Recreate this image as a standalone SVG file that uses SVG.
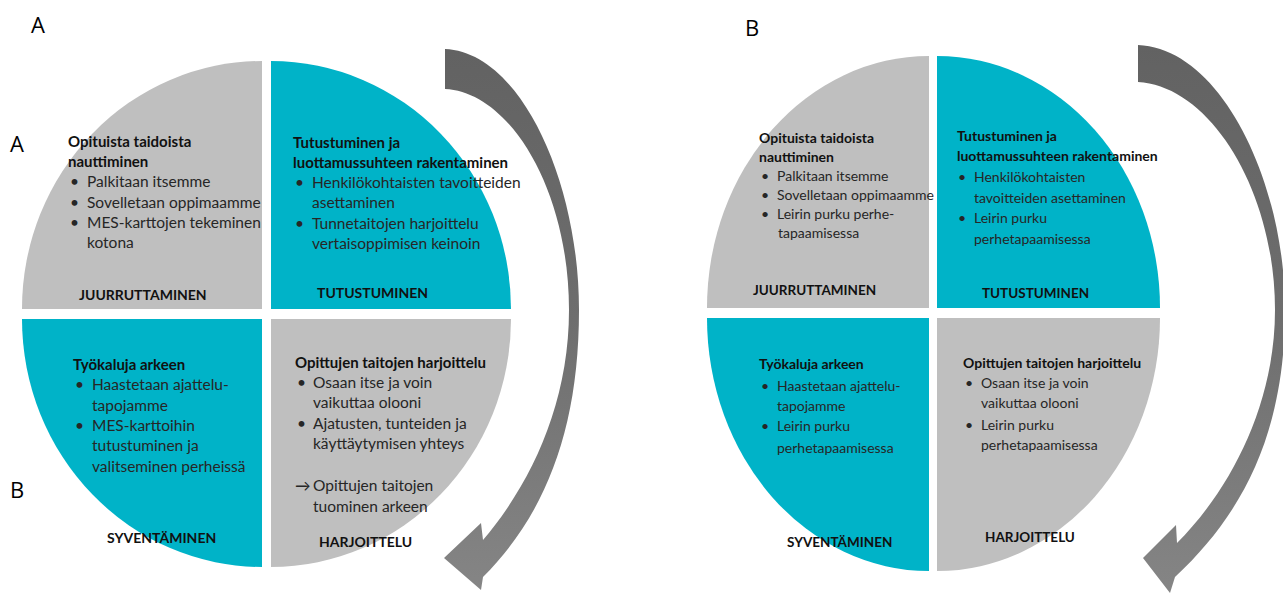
<svg xmlns="http://www.w3.org/2000/svg" width="1283" height="595" viewBox="0 0 1283 595">
<style>
.g{fill:#BFBFBF}
.t{fill:#00B3C8}
.lbl{font-family:"Open Sans","Liberation Sans",sans-serif;font-size:22px;fill:#000}
.h{font-family:Lato,"Liberation Sans",sans-serif;font-weight:bold;font-size:15px;fill:#111}
.b{font-family:Lato,"Liberation Sans",sans-serif;font-size:15.5px;fill:#262626}
.c{font-family:Lato,"Liberation Sans",sans-serif;font-weight:bold;font-size:14px;fill:#111}
.h2{font-family:Lato,"Liberation Sans",sans-serif;font-weight:bold;font-size:14px;fill:#111}
.b2{font-family:Lato,"Liberation Sans",sans-serif;font-size:14px;fill:#262626}
.c2{font-family:Lato,"Liberation Sans",sans-serif;font-weight:bold;font-size:13.5px;fill:#111}
.arr{fill:url(#ag)}
</style>
<defs>
<linearGradient id="ag" x1="0" y1="0" x2="0" y2="1">
<stop offset="0" stop-color="#626262"/>
<stop offset="0.5" stop-color="#6e6e6e"/>
<stop offset="1" stop-color="#858585"/>
</linearGradient>
</defs>
<rect width="1283" height="595" fill="#fff"/>

<g id="labels">
<text class="lbl" x="31" y="33">A</text>
<text class="lbl" x="10" y="152">A</text>
<text class="lbl" x="10" y="498">B</text>
<text class="lbl" x="745" y="36">B</text>
</g>

<g id="connectors">
<path class="arr" d="M445,49 C520,52 579,180 579,310 C579,430 545,515 483,577 L481,590 L444,558 L481,523 L483,540 C530,485 569,405 569,310 C569,190 510,92 445,89 Z"/>
<path class="arr" d="M1138,45 C1220,48 1285,180 1285,310 C1285,430 1245,512 1175,577 L1170,593 L1143,558 L1176,525 L1177,543 C1230,490 1275,405 1275,310 C1275,190 1210,86 1138,82 Z"/>
</g>

<g id="a-juurruttaminen">
<path class="g" d="M262,309 L22,309 A240,248 0 0 1 262,61 Z"/>
<text class="h" x="68" y="147">Opituista taidoista</text>
<text class="h" x="68" y="167">nauttiminen</text>
<text class="b" x="70" y="187">•</text><text class="b" x="87" y="187">Palkitaan itsemme</text>
<text class="b" x="70" y="208">•</text><text class="b" x="87" y="208">Sovelletaan oppimaamme</text>
<text class="b" x="70" y="228">•</text><text class="b" x="87" y="228">MES-karttojen tekeminen</text>
<text class="b" x="87" y="248">kotona</text>
<text class="c" x="79" y="300">JUURRUTTAMINEN</text>
</g>

<g id="a-tutustuminen">
<path class="t" d="M271,309 L271,61 A240,248 0 0 1 511,309 Z"/>
<text class="h" x="293" y="148">Tutustuminen ja</text>
<text class="h" x="293" y="168">luottamussuhteen rakentaminen</text>
<text class="b" x="295" y="188">•</text><text class="b" x="312" y="188">Henkilökohtaisten tavoitteiden</text>
<text class="b" x="312" y="208">asettaminen</text>
<text class="b" x="295" y="229">•</text><text class="b" x="312" y="229">Tunnetaitojen harjoittelu</text>
<text class="b" x="312" y="249">vertaisoppimisen keinoin</text>
<text class="c" x="317" y="298">TUTUSTUMINEN</text>
</g>

<g id="a-syventaminen">
<path class="t" d="M262,319 L262,567 A240,248 0 0 1 22,319 Z"/>
<text class="h" x="73" y="370">Työkaluja arkeen</text>
<text class="b" x="75" y="390">•</text><text class="b" x="92" y="390">Haastetaan ajattelu-</text>
<text class="b" x="92" y="411">tapojamme</text>
<text class="b" x="75" y="431">•</text><text class="b" x="92" y="431">MES-karttoihin</text>
<text class="b" x="92" y="451">tutustuminen ja</text>
<text class="b" x="92" y="472">valitseminen perheissä</text>
<text class="c" x="107" y="543">SYVENTÄMINEN</text>
</g>

<g id="a-harjoittelu">
<path class="g" d="M271,319 L511,319 A240,248 0 0 1 271,567 Z"/>
<text class="h" x="295" y="368">Opittujen taitojen harjoittelu</text>
<text class="b" x="297" y="388">•</text><text class="b" x="313" y="388">Osaan itse ja voin</text>
<text class="b" x="313" y="408">vaikuttaa olooni</text>
<text class="b" x="297" y="429">•</text><text class="b" x="313" y="429">Ajatusten, tunteiden ja</text>
<text class="b" x="313" y="449">käyttäytymisen yhteys</text>
<text class="b" x="295" y="491">→</text><text class="b" x="313" y="491">Opittujen taitojen</text>
<text class="b" x="313" y="512">tuominen arkeen</text>
<text class="c" x="319" y="547">HARJOITTELU</text>
</g>

<g id="b-juurruttaminen">
<path class="g" d="M929,308 L707,308 A222,252 0 0 1 929,56 Z"/>
<text class="h2" x="759" y="143">Opituista taidoista</text>
<text class="h2" x="759" y="162">nauttiminen</text>
<text class="b2" x="761" y="181">•</text><text class="b2" x="777" y="181">Palkitaan itsemme</text>
<text class="b2" x="761" y="200">•</text><text class="b2" x="777" y="200">Sovelletaan oppimaamme</text>
<text class="b2" x="761" y="219">•</text><text class="b2" x="777" y="219">Leirin purku perhe-</text>
<text class="b2" x="778" y="238">tapaamisessa</text>
<text class="c2" x="753" y="295">JUURRUTTAMINEN</text>
</g>

<g id="b-tutustuminen">
<path class="t" d="M937,308 L937,56 A223,252 0 0 1 1160,308 Z"/>
<text class="h2" x="957" y="141">Tutustuminen ja</text>
<text class="h2" x="957" y="161">luottamussuhteen rakentaminen</text>
<text class="b2" x="958" y="182">•</text><text class="b2" x="974" y="182">Henkilökohtaisten</text>
<text class="b2" x="974" y="203">tavoitteiden asettaminen</text>
<text class="b2" x="958" y="223">•</text><text class="b2" x="974" y="223">Leirin purku</text>
<text class="b2" x="974" y="244">perhetapaamisessa</text>
<text class="c2" x="982" y="298">TUTUSTUMINEN</text>
</g>

<g id="b-syventaminen">
<path class="t" d="M929,318 L929,571 A222,253 0 0 1 707,318 Z"/>
<text class="h2" x="759" y="369">Työkaluja arkeen</text>
<text class="b2" x="761" y="391">•</text><text class="b2" x="777" y="391">Haastetaan ajattelu-</text>
<text class="b2" x="777" y="411">tapojamme</text>
<text class="b2" x="761" y="431">•</text><text class="b2" x="777" y="431">Leirin purku</text>
<text class="b2" x="777" y="453">perhetapaamisessa</text>
<text class="c2" x="787" y="547">SYVENTÄMINEN</text>
</g>

<g id="b-harjoittelu">
<path class="g" d="M937,318 L1160,318 A223,253 0 0 1 937,571 Z"/>
<text class="h2" x="963" y="368">Opittujen taitojen harjoittelu</text>
<text class="b2" x="965" y="388">•</text><text class="b2" x="981" y="388">Osaan itse ja voin</text>
<text class="b2" x="981" y="408">vaikuttaa olooni</text>
<text class="b2" x="965" y="430">•</text><text class="b2" x="981" y="430">Leirin purku</text>
<text class="b2" x="981" y="450">perhetapaamisessa</text>
<text class="c2" x="985" y="542">HARJOITTELU</text>
</g>
</svg>
